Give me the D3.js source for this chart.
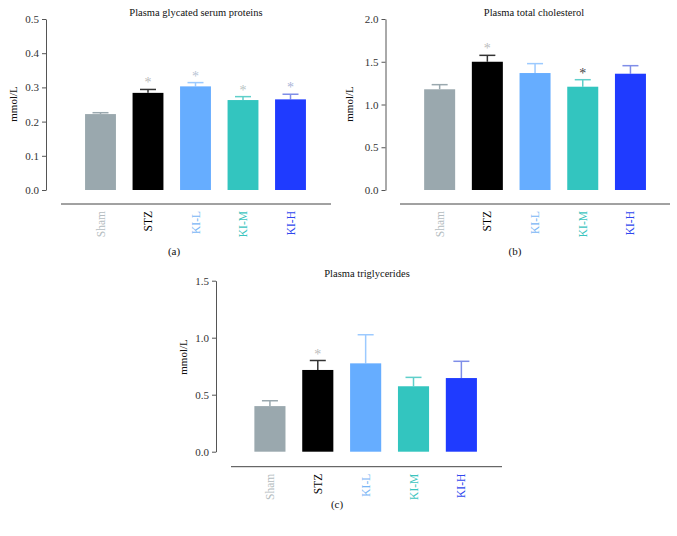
<!DOCTYPE html>
<html><head><meta charset="utf-8">
<script src="https://cdn.jsdelivr.net/npm/d3@7"></script>
<style>body{margin:0;background:#fff;} svg{display:block;font-family:"Liberation Serif","DejaVu Serif",serif;}</style>
</head><body><svg id="c" width="677" height="536"></svg>
<script>
const categories = ["Sham","STZ","KI-L","KI-M","KI-H"];
const barColors = ["#9aa8ae","#000000","#66adff","#33c5bf","#1f3bff"];
const labelColors = ["#b4bcc0","#000000","#7ab6f5","#3cc4be","#3048ee"];
const errColors = ["#9aa8ae","#333333","#9ccaff","#5fcfca","#7f8ee8"];

const gspMean = [0.222,0.284,0.303,0.263,0.265];
const gspErr  = [0.226,0.294,0.314,0.273,0.280];
const gspStars = ["","*","*","*","*"];
const gspTicks = [0.0,0.1,0.2,0.3,0.4,0.5];

const tcMean = [1.178,1.500,1.368,1.208,1.360];
const tcErr  = [1.232,1.575,1.478,1.290,1.454];
const tcStars = ["","*","","*",""];
const tcTicks = [0.0,0.5,1.0,1.5,2.0];

const tgMean = [0.400,0.717,0.775,0.574,0.646];
const tgErr  = [0.447,0.800,1.026,0.652,0.793];
const tgStars = ["","*","","",""];
const tgTicks = [0.0,0.5,1.0,1.5];

const starColors = ["#bbb","#bcbcbc","#b8c4d4","#b8c4c4","#aab4d8"];

const svg = d3.select("#c");

function panel(o){
  const g = svg.append("g");
  const x = d3.scaleBand().domain(categories).range([o.x0,o.x1]).paddingInner(0.35).paddingOuter(0.175);
  const y = d3.scaleLinear().domain([0,o.ticks[o.ticks.length-1]]).range([o.yb,o.yt]);
  const ax = g.append("g").attr("transform",`translate(${o.ax},0)`)
    .call(d3.axisLeft(y).tickValues(o.ticks).tickFormat(d3.format(".1f")).tickSize(4).tickSizeOuter(0));
  ax.select(".domain").attr("stroke","#555");
  ax.selectAll(".tick line").attr("stroke","#555");
  ax.selectAll(".tick text").attr("font-family","Liberation Serif").attr("font-size",11).attr("fill","#333").attr("x",-7);
  g.append("line").attr("x1",o.lx0).attr("x2",o.lx1).attr("y1",o.ly).attr("y2",o.ly).attr("stroke","#444").attr("stroke-width",1);
  categories.forEach((c,i)=>{
    const cx = x(c)+x.bandwidth()/2;
    const col = errColors[i];
    g.append("line").attr("x1",cx).attr("x2",cx).attr("y1",y(o.mean[i])).attr("y2",y(o.err[i])).attr("stroke",col).attr("stroke-width",1.5);
    g.append("line").attr("x1",cx-8).attr("x2",cx+8).attr("y1",y(o.err[i])).attr("y2",y(o.err[i])).attr("stroke",col).attr("stroke-width",1.5);
    if(o.stars[i]){
      g.append("text").attr("x",cx).attr("y",y(o.err[i])-2).attr("text-anchor","middle")
        .attr("font-size",14).attr("fill", (o.darkStar===i)?"#444":starColors[i]).text("*");
    }
  });
  g.selectAll("rect").data(categories).join("rect")
    .attr("x",d=>x(d)).attr("width",x.bandwidth())
    .attr("y",(d,i)=>y(o.mean[i])).attr("height",(d,i)=>o.yb-y(o.mean[i]))
    .attr("fill",(d,i)=>barColors[i]);
  categories.forEach((c,i)=>{
    const cx = x(c)+x.bandwidth()/2;
    g.append("text").attr("transform",`translate(${cx+4},${o.ly+7}) rotate(-90)`)
      .attr("text-anchor","end").attr("font-size",11.5).attr("fill",labelColors[i]).text(c);
  });
  g.append("text").attr("x",o.tx).attr("y",o.ty).attr("text-anchor","middle").attr("font-size",10.5).attr("fill","#111").text(o.title);
  g.append("text").attr("transform",`translate(${o.yl[0]},${o.yl[1]}) rotate(-90)`).attr("text-anchor","middle").attr("font-size",11).attr("fill","#111").text("mmol/L");
  g.append("text").attr("x",o.pl[0]).attr("y",o.pl[1]).attr("text-anchor","middle").attr("font-size",11).attr("fill","#111").text(o.plabel);
}

panel({x0:76.75,x1:314.25,yb:190,yt:19,ax:46,lx0:61,lx1:331,ly:204,mean:gspMean,err:gspErr,stars:gspStars,ticks:gspTicks,
  title:"Plasma glycated serum proteins",tx:196,ty:16,yl:[17,104],pl:[174,255],plabel:"(a)"});
panel({x0:415.8,x1:654.3,yb:190,yt:19,ax:385.5,lx0:400,lx1:670,ly:204,mean:tcMean,err:tcErr,stars:tcStars,ticks:tcTicks,darkStar:3,
  title:"Plasma total cholesterol",tx:534,ty:16,yl:[353,104],pl:[515,255],plabel:"(b)"});
panel({x0:246,x1:485.3,yb:451.7,yt:280.7,ax:216,lx0:231,lx1:502,ly:466.7,mean:tgMean,err:tgErr,stars:tgStars,ticks:tgTicks,
  title:"Plasma triglycerides",tx:367,ty:277,yl:[187,357],pl:[337,508],plabel:"(c)"});
</script></body></html>
